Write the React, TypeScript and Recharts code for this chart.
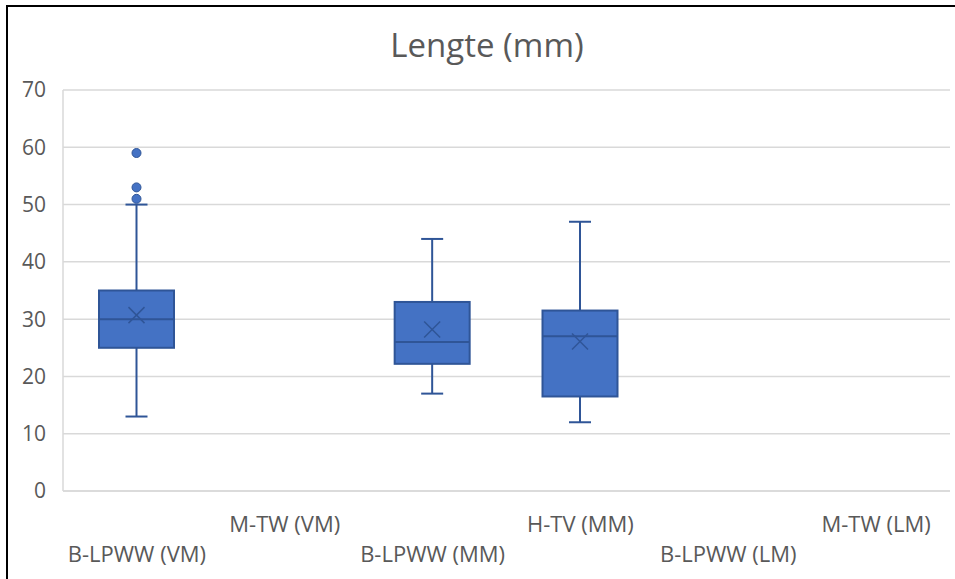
import React from 'react';
import { ComposedChart, Bar, XAxis, YAxis, CartesianGrid } from 'recharts';

const categories = ['B-LPWW (VM)', 'M-TW (VM)', 'B-LPWW (MM)', 'H-TV (MM)', 'B-LPWW (LM)', 'M-TW (LM)'];
const whiskerLow: (number | null)[] = [13, null, 17, 12, null, null];
const q1: (number | null)[] = [25, null, 22.2, 16.5, null, null];
const median: (number | null)[] = [30, null, 26, 27, null, null];
const q3: (number | null)[] = [35, null, 33, 31.5, null, null];
const whiskerHigh: (number | null)[] = [50, null, 44, 47, null, null];
const means: (number | null)[] = [30.7, null, 28.2, 26.1, null, null];
const outliers: number[][] = [[51, 53, 59], [], [], [], [], []];
const yTicks = [0, 10, 20, 30, 40, 50, 60, 70];

const data = categories.map((name, i) => ({
  name,
  range: whiskerLow[i] != null && whiskerHigh[i] != null ? [whiskerLow[i], whiskerHigh[i]] : null,
  low: whiskerLow[i],
  q1: q1[i],
  median: median[i],
  q3: q3[i],
  high: whiskerHigh[i],
  mean: means[i],
  outliers: outliers[i],
}));

const FILL = '#4472C4';
const STROKE = '#2F5597';
const FONT = '"Open Sans", sans-serif';
const TEXT = '#595959';

const BoxShape = (props: any) => {
  const { x, y, width, height, payload } = props;
  if (!payload || payload.low == null || payload.high == null) return null;
  const lo = payload.low;
  const hi = payload.high;
  const py = (v: number) => y + (height * (hi - v)) / (hi - lo);
  const cx = x + width / 2;
  const cap = 11;
  const yq1 = py(payload.q1);
  const yq3 = py(payload.q3);
  const ym = py(payload.median);
  const yMean = py(payload.mean);
  const s = 8;
  return (
    <g>
      <line x1={cx} x2={cx} y1={py(hi)} y2={yq3} stroke={STROKE} strokeWidth={2} />
      <line x1={cx} x2={cx} y1={yq1} y2={py(lo)} stroke={STROKE} strokeWidth={2} />
      <line x1={cx - cap} x2={cx + cap} y1={py(hi)} y2={py(hi)} stroke={STROKE} strokeWidth={2} />
      <line x1={cx - cap} x2={cx + cap} y1={py(lo)} y2={py(lo)} stroke={STROKE} strokeWidth={2} />
      <rect x={x} y={yq3} width={width} height={yq1 - yq3} fill={FILL} stroke={STROKE} strokeWidth={2} />
      <line x1={x} x2={x + width} y1={ym} y2={ym} stroke={STROKE} strokeWidth={2} />
      <line x1={cx - s} x2={cx + s} y1={yMean - s} y2={yMean + s} stroke={STROKE} strokeWidth={1.5} />
      <line x1={cx - s} x2={cx + s} y1={yMean + s} y2={yMean - s} stroke={STROKE} strokeWidth={1.5} />
      {(payload.outliers || []).map((v: number, k: number) => (
        <circle key={k} cx={cx} cy={py(v)} r={4.5} fill={FILL} stroke={STROKE} strokeWidth={1} />
      ))}
    </g>
  );
};

const XTick = (props: any) => {
  const { x, y, payload, index } = props;
  const lower = index % 2 === 0;
  return (
    <text
      x={x}
      y={y + (lower ? 62 : 32)}
      textAnchor="middle"
      dominantBaseline="central"
      fill={TEXT}
      fontFamily={FONT}
      fontSize={22}
    >
      {payload.value}
    </text>
  );
};

export default function App() {
  return (
    <div style={{ position: 'absolute', left: 0, top: 0, width: 955, height: 579, background: '#fff', overflow: 'hidden' }}>
      <div style={{ position: 'absolute', left: 6, top: 5, width: 2, height: 574, background: '#000' }} />
      <div style={{ position: 'absolute', left: 6, top: 5, width: 949, height: 2, background: '#000' }} />
      <div
        style={{
          position: 'absolute',
          left: 287,
          width: 400,
          top: 23,
          textAlign: 'center',
          fontFamily: FONT,
          fontSize: 33,
          color: TEXT,
          lineHeight: '44px',
        }}
      >
        Lengte (mm)
      </div>
      <div style={{ position: 'absolute', left: 0, top: 0 }}>
        <ComposedChart width={955} height={579} data={data} margin={{ top: 90, right: 5, bottom: 0, left: 0 }} barSize={75}>
          <CartesianGrid vertical={false} stroke="#D9D9D9" strokeWidth={1.5} />
          <XAxis
            dataKey="name"
            interval={0}
            height={88}
            tickLine={false}
            tickSize={0}
            tickMargin={0}
            axisLine={{ stroke: '#D9D9D9', strokeWidth: 1.5 }}
            tick={<XTick />}
          />
          <YAxis
            type="number"
            domain={[0, 70]}
            ticks={yTicks}
            width={63}
            tickLine={false}
            tickSize={0}
            tickMargin={17}
            axisLine={{ stroke: '#D9D9D9', strokeWidth: 1.5 }}
            tick={{ fill: TEXT, fontFamily: FONT, fontSize: 21 }}
          />
          <Bar dataKey="range" shape={<BoxShape />} isAnimationActive={false} />
        </ComposedChart>
      </div>
    </div>
  );
}
